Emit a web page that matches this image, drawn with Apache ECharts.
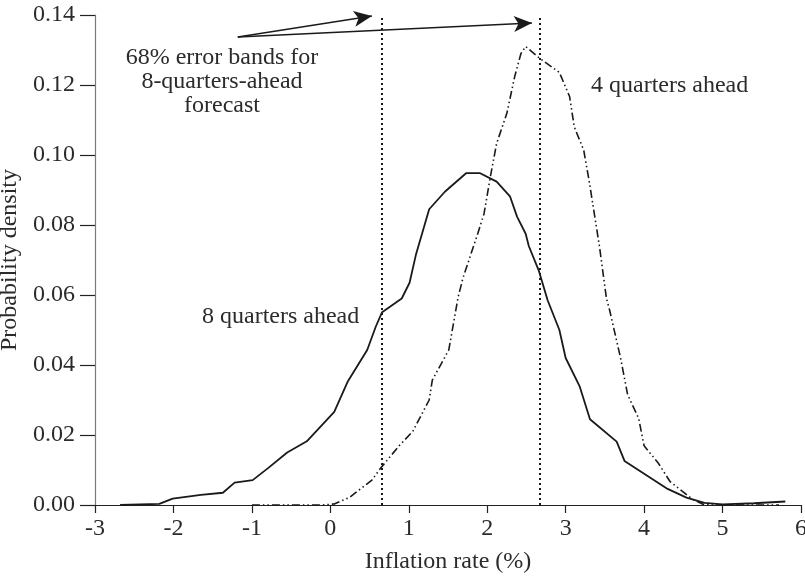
<!DOCTYPE html>
<html>
<head>
<meta charset="utf-8">
<script src="https://cdn.jsdelivr.net/npm/echarts@6/dist/echarts.min.js"></script>
<style>
  html, body { margin: 0; padding: 0; background: #fff; }
  #chart { width: 805px; height: 578px; }
</style>
</head>
<body>
<div id="chart"></div>
<script>
// Density of the inflation forecast, 8 quarters ahead: [inflation %, density]
const eightQuartersAhead = [
  [-2.68, 0.0000], [-2.18, 0.0003], [-2.01, 0.0018], [-1.65, 0.0029], [-1.37, 0.0035],
  [-1.22, 0.0064], [-0.99, 0.0071], [-0.79, 0.0106], [-0.55, 0.0150], [-0.30, 0.0182],
  [0.05, 0.0266], [0.22, 0.0352], [0.47, 0.0443], [0.58, 0.0510], [0.66, 0.0551],
  [0.91, 0.0590], [1.01, 0.0635], [1.09, 0.0714], [1.26, 0.0845], [1.46, 0.0895],
  [1.73, 0.0948], [1.91, 0.0948], [2.12, 0.0924], [2.29, 0.0882], [2.38, 0.0824],
  [2.49, 0.0775], [2.53, 0.0740], [2.66, 0.0668], [2.77, 0.0585], [2.92, 0.0500],
  [3.00, 0.0420], [3.18, 0.0338], [3.31, 0.0245], [3.65, 0.0181], [3.75, 0.0126],
  [4.30, 0.0046], [4.54, 0.0021], [4.77, 0.0006], [5.00, 0.0002], [5.40, 0.0005],
  [5.80, 0.0010]
];

// Density of the inflation forecast, 4 quarters ahead
const fourQuartersAhead = [
  [-1.00, 0.0000], [-0.10, 0.0000], [0.05, 0.0003], [0.24, 0.0021], [0.53, 0.0071],
  [0.64, 0.0105], [0.88, 0.0170], [1.05, 0.0210], [1.26, 0.0300], [1.30, 0.0357],
  [1.51, 0.0443], [1.57, 0.0519], [1.63, 0.0595], [1.69, 0.0648], [1.88, 0.0776],
  [1.96, 0.0833], [2.04, 0.0938], [2.12, 0.1033], [2.25, 0.1119], [2.35, 0.1224],
  [2.43, 0.1290], [2.49, 0.1310], [2.67, 0.1276], [2.92, 0.1236], [3.05, 0.1167],
  [3.11, 0.1080], [3.23, 0.1014], [3.30, 0.0925], [3.43, 0.0740], [3.52, 0.0590],
  [3.56, 0.0557], [3.70, 0.0420], [3.79, 0.0315], [3.93, 0.0248], [4.00, 0.0169],
  [4.18, 0.0120], [4.33, 0.0067], [4.62, 0.0016], [4.75, 0.0002], [4.87, 0.0000],
  [5.72, 0.0000]
];

// 68% error band bounds for the 8-quarters-ahead forecast (inflation %)
const errorBand = [0.65, 2.67];

// Arrow from the annotation text to each band bound: [start, end] in data units
const bandArrows = [
  [[-1.18, 0.1337], [0.53, 0.1397]],
  [[-1.18, 0.1337], [2.57, 0.1377]]
];

// Axis ranges and steps
const xRange = [-3, 6];
const xStep = 1;
const yRange = [0, 0.14];
const yStep = 0.02;

const FONT = "'Liberation Serif', 'Times New Roman', serif";
const FONT_SIZE = 24;
const TEXT = '#2b2b2b';
const INK = '#1a1a1a';

const chart = echarts.init(document.getElementById('chart'), null, { renderer: 'canvas' });

chart.setOption({
  animation: false,
  backgroundColor: '#ffffff',
  grid: { left: 95, right: 4, top: 15, bottom: 73, outerBoundsMode: 'none', containLabel: false },
  xAxis: {
    type: 'value',
    min: xRange[0], max: xRange[1], interval: xStep,
    name: 'Inflation rate (%)',
    nameLocation: 'middle',
    nameGap: 45,
    nameTextStyle: { fontFamily: FONT, fontSize: FONT_SIZE, color: TEXT },
    axisLine: { show: true, onZero: false, lineStyle: { color: '#222', width: 1.2 } },
    axisTick: { show: true, length: 8, lineStyle: { color: '#222', width: 1.2 } },
    axisLabel: { margin: 12, fontFamily: FONT, fontSize: FONT_SIZE, color: TEXT },
    splitLine: { show: false }
  },
  yAxis: {
    type: 'value',
    min: yRange[0], max: yRange[1], interval: yStep,
    name: 'Probability density',
    nameLocation: 'middle',
    nameGap: 68,
    nameTextStyle: { fontFamily: FONT, fontSize: FONT_SIZE, color: TEXT },
    axisLine: { show: true, onZero: false, lineStyle: { color: '#7a7a7a', width: 1.2 } },
    axisTick: { show: true, length: 15, lineStyle: { color: '#222', width: 1.2 } },
    axisLabel: {
      margin: 20, fontFamily: FONT, fontSize: FONT_SIZE, color: TEXT,
      formatter: v => v.toFixed(2)
    },
    splitLine: { show: false }
  },
  series: [
    {
      name: '8 quarters ahead',
      type: 'line',
      data: eightQuartersAhead,
      showSymbol: false,
      smooth: false,
      lineStyle: { color: INK, width: 1.8, type: 'solid' },
      z: 3
    },
    {
      name: '4 quarters ahead',
      type: 'line',
      data: fourQuartersAhead,
      showSymbol: false,
      smooth: false,
      lineStyle: { color: INK, width: 1.6, type: [8, 3, 1.5, 3, 1.5, 3] },
      z: 3,
      markLine: {
        silent: true,
        symbol: ['none', 'none'],
        label: { show: false },
        lineStyle: { color: INK, width: 2, type: [2, 3] },
        data: errorBand.map(v => ({ xAxis: v }))
      }
    },
    {
      name: 'band arrows',
      type: 'line',
      data: [],
      markLine: {
        silent: true,
        symbol: ['none', 'arrow'],
        symbolSize: [12, 18],
        label: { show: false },
        lineStyle: { color: INK, width: 1.4, type: 'solid' },
        data: bandArrows.map(([a, b]) => [{ coord: a }, { coord: b }])
      }
    }
  ],
  graphic: [
    {
      type: 'text',
      x: 222, y: 46,
      style: {
        text: '68% error bands for\n8-quarters-ahead\nforecast',
        align: 'center',
        verticalAlign: 'top',
        fontFamily: FONT, fontSize: FONT_SIZE, lineHeight: 24, fill: TEXT
      }
    },
    {
      type: 'text',
      x: 591, y: 86,
      style: {
        text: '4 quarters ahead',
        verticalAlign: 'middle',
        fontFamily: FONT, fontSize: FONT_SIZE, fill: TEXT
      }
    },
    {
      type: 'text',
      x: 202, y: 317,
      style: {
        text: '8 quarters ahead',
        verticalAlign: 'middle',
        fontFamily: FONT, fontSize: FONT_SIZE, fill: TEXT
      }
    }
  ]
});
</script>
</body>
</html>
